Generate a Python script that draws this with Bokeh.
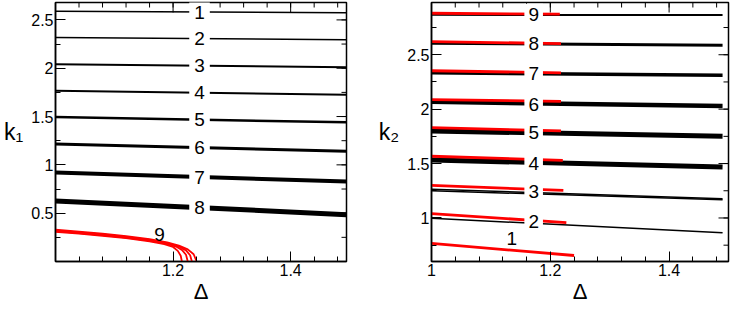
import numpy as np
from bokeh.plotting import figure
from bokeh.layouts import row
from bokeh.models import Range1d, FixedTicker, PrintfTickFormatter, ColumnDataSource
from bokeh.embed import file_html
from bokeh.resources import INLINE
from bokeh.core.properties import value

FONT = "Liberation Sans"

# ---------------- Left panel data (k1 vs Delta) ----------------
k1_names = ["1", "2", "3", "4", "5", "6", "7", "8"]
k1_x = [1.0, 1.495]
k1_start = [2.589, 2.319, 2.042, 1.767, 1.494, 1.216, 0.922, 0.627]
k1_end = [2.573, 2.294, 2.010, 1.725, 1.440, 1.140, 0.827, 0.485]
k1_width = [1.5, 1.5, 2.0, 2.0, 2.5, 3.0, 4.0, 5.0]
k1_label_x = 1.245
k1_label_y = [2.578, 2.303, 2.024, 1.746, 1.467, 1.178, 0.873, 0.556]

# red bundle (branch 9)
red9_x = [
    [1.0, 1.04, 1.08, 1.12, 1.16, 1.19, 1.21, 1.225, 1.235, 1.24],
    [1.0, 1.04, 1.08, 1.12, 1.16, 1.19, 1.21, 1.222, 1.229, 1.232],
    [1.0, 1.04, 1.08, 1.12, 1.16, 1.19, 1.205, 1.215, 1.222, 1.225],
    [1.0, 1.04, 1.08, 1.12, 1.16, 1.185, 1.2, 1.208, 1.213, 1.215],
]
red9_y = [
    [0.330, 0.310, 0.288, 0.262, 0.231, 0.198, 0.165, 0.125, 0.075, 0.0],
    [0.322, 0.302, 0.280, 0.255, 0.224, 0.190, 0.155, 0.115, 0.065, 0.0],
    [0.315, 0.295, 0.273, 0.248, 0.217, 0.182, 0.155, 0.120, 0.070, 0.0],
    [0.308, 0.288, 0.266, 0.241, 0.209, 0.180, 0.150, 0.110, 0.060, 0.0],
]
red9_label = ("9", 1.177, 0.279)

k1_xrange = (1.0, 1.495)
k1_yrange = (0.0, 2.68)
k1_xticks = [1.2, 1.4]
k1_yticks = [0.5, 1.0, 1.5, 2.0, 2.5]

# ---------------- Right panel data (k2 vs Delta) ----------------
k2_names = ["9", "8", "7", "6", "5", "4", "3", "3", "2"]
k2_x = [1.0, 1.49]
k2_start = [2.867, 2.606, 2.334, 2.067, 1.800, 1.533, 1.265, 1.250, 0.997]
k2_end = [2.864, 2.587, 2.311, 2.030, 1.750, 1.468, 1.176, 1.168, 0.865]
k2_width = [2.0, 3.0, 3.5, 4.5, 5.0, 5.0, 1.5, 1.5, 1.5]

red2_start_y = [2.881, 2.620, 2.353, 2.087, 1.831, 1.567, 1.300, 1.039, 0.767]
red2_end_x = [1.216, 1.218, 1.218, 1.218, 1.218, 1.221, 1.222, 1.227, 1.240]
red2_end_y = [2.873, 2.603, 2.334, 2.072, 1.800, 1.530, 1.253, 0.958, 0.655]

k2_label_names = ["9", "8", "7", "6", "5", "4", "3", "2"]
k2_label_x = 1.172
k2_label_y = [2.873, 2.606, 2.325, 2.045, 1.786, 1.500, 1.244, 0.963]
red1_label = ("1", 1.135, 0.81)

k2_xrange = (1.0, 1.5)
k2_yrange = (0.6, 2.98)
k2_xticks = [1.0, 1.2, 1.4]
k2_yticks = [1.0, 1.5, 2.0, 2.5]


def minors(lo, hi, step):
    return [float(v) for v in np.round(np.arange(lo, hi + 1e-9, step), 4)]


def style(p, xr, yr, xt, xminor, yt, yminor, ylabel):
    p.xaxis.ticker = FixedTicker(ticks=xt, minor_ticks=xminor)
    p.yaxis.ticker = FixedTicker(ticks=yt, minor_ticks=yminor)
    for ax in p.axis:
        ax.formatter = PrintfTickFormatter(format="%g")
        ax.major_tick_in = 10
        ax.major_tick_out = 0
        ax.minor_tick_in = 5
        ax.minor_tick_out = 0
        ax.major_tick_line_color = "black"
        ax.minor_tick_line_color = "black"
        ax.axis_line_color = "black"
        ax.axis_line_width = 1.5
        ax.major_label_text_font = FONT
        ax.major_label_text_font_size = "16px"
        ax.major_label_text_color = "black"
        ax.major_label_standoff = 2
        ax.axis_label_text_font = FONT
        ax.axis_label_text_font_style = "normal"
        ax.axis_label_text_color = "black"
    p.xaxis.axis_label = "Δ"
    p.xaxis.axis_label_text_font_size = "22px"
    p.xaxis.axis_label_standoff = 0
    p.yaxis.axis_label = ylabel
    p.yaxis.axis_label_text_font_size = "23px"
    p.yaxis.axis_label_orientation = "horizontal"
    p.yaxis.axis_label_standoff = 5
    p.xgrid.visible = False
    p.ygrid.visible = False
    p.outline_line_color = "black"
    p.outline_line_width = 1.5
    # mirrored inward ticks on the top and right frame edges
    for ticks, ln in ((xt, 10), (xminor, 5)):
        p.ray(x=ticks, y=[yr[1]] * len(ticks), length=ln, length_units="screen",
              angle=-np.pi / 2, line_color="black", line_width=1)
    for ticks, ln in ((yt, 10), (yminor, 5)):
        p.ray(x=[xr[1]] * len(ticks), y=ticks, length=ln, length_units="screen",
              angle=np.pi, line_color="black", line_width=1)


H = 306

# ---------------- Left figure ----------------
p1 = figure(width=352, height=H, output_backend="svg", toolbar_location=None,
            x_range=Range1d(*k1_xrange), y_range=Range1d(*k1_yrange),
            min_border_left=48, min_border_right=6, min_border_top=2, min_border_bottom=0)
style(p1, k1_xrange, k1_yrange, k1_xticks, minors(1.04, 1.48, 0.04), k1_yticks,
      minors(0.25, 2.5, 0.25), "k₁")

src1 = ColumnDataSource(dict(
    xs=[k1_x for _ in k1_names],
    ys=[[a, b] for a, b in zip(k1_start, k1_end)],
    w=k1_width))
p1.multi_line("xs", "ys", source=src1, line_color="black", line_width="w")
p1.multi_line(red9_x, red9_y, line_color="red", line_width=1.8)

lab1 = ColumnDataSource(dict(x=[k1_label_x] * len(k1_names), y=k1_label_y, t=k1_names))
p1.text("x", "y", text="t", source=lab1, text_align="center", text_baseline="middle",
        text_font=value(FONT), text_font_size="19px", text_color="black",
        background_fill_color="white", padding=5)
p1.text([red9_label[1]], [red9_label[2]], text=[red9_label[0]], text_align="center",
        text_baseline="middle", text_font=value(FONT), text_font_size="19px", text_color="black")

# ---------------- Right figure ----------------
p2 = figure(width=379, height=H, output_backend="svg", toolbar_location=None,
            x_range=Range1d(*k2_xrange), y_range=Range1d(*k2_yrange),
            min_border_left=79, min_border_right=3, min_border_top=2, min_border_bottom=0)
style(p2, k2_xrange, k2_yrange, k2_xticks, minors(1.04, 1.48, 0.04), k2_yticks,
      minors(0.75, 2.75, 0.25), "k₂")

src2 = ColumnDataSource(dict(
    xs=[k2_x for _ in k2_names],
    ys=[[a, b] for a, b in zip(k2_start, k2_end)],
    w=k2_width))
p2.multi_line("xs", "ys", source=src2, line_color="black", line_width="w")
src2r = ColumnDataSource(dict(
    xs=[[1.0, e] for e in red2_end_x],
    ys=[[a, b] for a, b in zip(red2_start_y, red2_end_y)]))
p2.multi_line("xs", "ys", source=src2r, line_color="red", line_width=2.8)

lab2 = ColumnDataSource(dict(x=[k2_label_x] * len(k2_label_names), y=k2_label_y, t=k2_label_names))
p2.text("x", "y", text="t", source=lab2, text_align="center", text_baseline="middle",
        text_font=value(FONT), text_font_size="19px", text_color="black",
        background_fill_color="white", padding=4)
p2.text([red1_label[1]], [red1_label[2]], text=[red1_label[0]], text_align="center",
        text_baseline="middle", text_font=value(FONT), text_font_size="19px", text_color="black")

layout = row(p1, p2)
open("out.html", "w").write(file_html(layout, INLINE))
